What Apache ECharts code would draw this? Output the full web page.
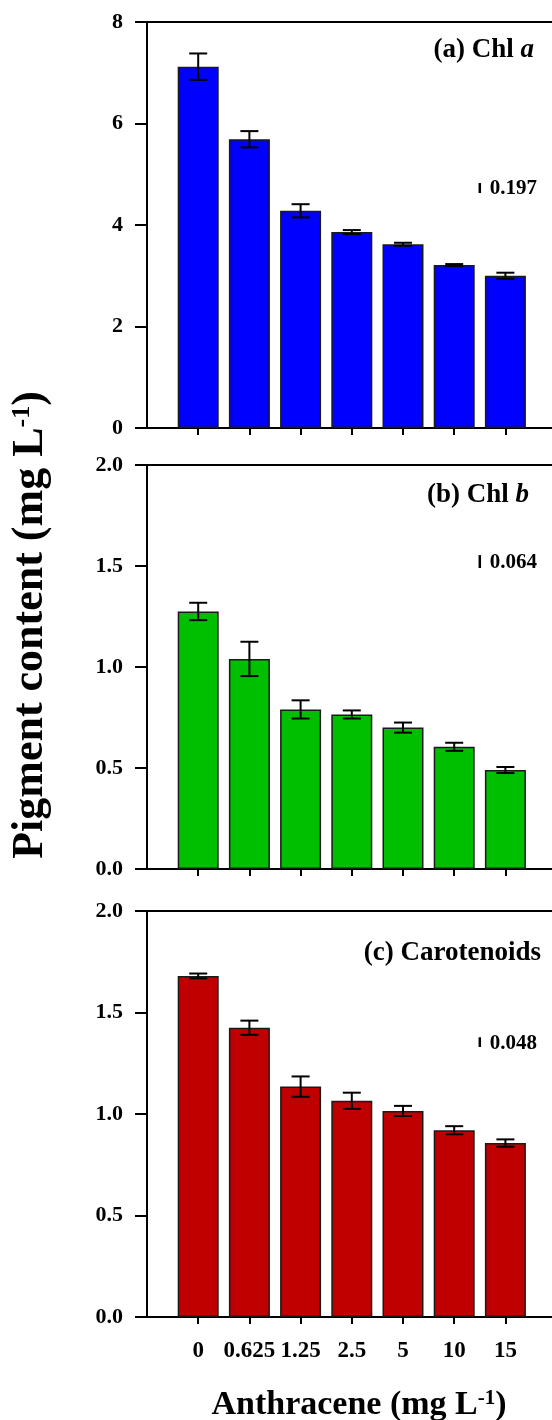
<!DOCTYPE html>
<html>
<head>
<meta charset="utf-8">
<script src="https://cdn.jsdelivr.net/npm/echarts@6/dist/echarts.min.js"></script>
<style>
  html, body { margin: 0; padding: 0; background: #fff; }
  #chart { width: 552px; height: 1420px; }
</style>
</head>
<body>
<div id="chart"></div>
<script>
// Anthracene concentrations (mg L-1)
const categories = ['0', '0.625', '1.25', '2.5', '5', '10', '15'];

// Chlorophyll a, mean and SE (mg L-1)
const chlA    = [7.12, 5.69, 4.28, 3.86, 3.62, 3.21, 3.00];
const chlAErr = [0.26, 0.16, 0.13, 0.04, 0.03, 0.02, 0.06];

// Chlorophyll b
const chlB    = [1.275, 1.04, 0.79, 0.765, 0.70, 0.605, 0.49];
const chlBErr = [0.043, 0.085, 0.045, 0.02, 0.025, 0.02, 0.015];

// Carotenoids
const carot    = [1.68, 1.425, 1.135, 1.065, 1.015, 0.92, 0.857];
const carotErr = [0.012, 0.035, 0.05, 0.04, 0.025, 0.02, 0.018];

// LSD values and the lower end of each LSD mark
const lsd     = [0.197, 0.064, 0.048];
const lsdBase = [4.63, 1.49, 1.33];

// Y-axis tick ranges
const yMax      = [8, 2, 2];
const yInterval = [2, 0.5, 0.5];
const yDecimals = [0, 1, 1];

const panelTitles = ['(a) Chl {i|a}', '(b) Chl {i|b}', '(c) Carotenoids'];
const barColors   = ['#0000FF', '#00BE00', '#C00000'];

const FONT = '"Liberation Serif", "Times New Roman", serif';
const xData = [''].concat(categories, ['']);

const grids = [
  { left: 147, width: 409.6, top: 22,  height: 406 },
  { left: 147, width: 409.6, top: 465, height: 404 },
  { left: 147, width: 409.6, top: 911, height: 406 }
].map(g => Object.assign({ outerBoundsMode: 'none', containLabel: false }, g));

const titleRight = [18, 23, 11];
const titleTop   = [37, 482, 940];

const means = [chlA, chlB, carot];
const errs  = [chlAErr, chlBErr, carotErr];

const xAxes = [];
const yAxes = [];
const series = [];

for (let p = 0; p < 3; p++) {
  const isBottom = p === 2;
  // bottom category axis
  xAxes.push({
    type: 'category', gridIndex: p, data: xData, boundaryGap: false, position: 'bottom',
    axisLine: { show: true, lineStyle: { color: '#000', width: 2 } },
    axisTick: { show: true, length: 7, inside: false,
      interval: (idx) => idx >= 1 && idx <= categories.length,
      lineStyle: { color: '#000', width: 2 } },
    axisLabel: { show: isBottom, interval: 0, hideOverlap: false, margin: 23,
      color: '#000', fontFamily: FONT, fontWeight: 'bold', fontSize: 23 },
    splitLine: { show: false }
  });
  // top frame line
  xAxes.push({
    type: 'category', gridIndex: p, data: xData, boundaryGap: false, position: 'top',
    axisLine: { show: true, lineStyle: { color: '#000', width: 2 } },
    axisTick: { show: false }, axisLabel: { show: false }, splitLine: { show: false }
  });
  const dec = yDecimals[p];
  yAxes.push({
    type: 'value', gridIndex: p, min: 0, max: yMax[p], interval: yInterval[p],
    axisLine: { show: true, lineStyle: { color: '#000', width: 2 } },
    axisTick: { show: true, length: 12, inside: false, lineStyle: { color: '#000', width: 2 } },
    axisLabel: { margin: 24, color: '#000', fontFamily: FONT, fontWeight: 'bold', fontSize: 22,
      formatter: v => v.toFixed(dec) },
    splitLine: { show: false }
  });

  const xi = p * 2;
  series.push({
    type: 'bar', xAxisIndex: xi, yAxisIndex: p, barWidth: 41, silent: true,
    itemStyle: { color: barColors[p], borderColor: '#1a1a1a', borderWidth: 1.5 },
    data: means[p].map((v, i) => [categories[i], v]),
    z: 2
  });

  series.push({
    type: 'custom', xAxisIndex: xi, yAxisIndex: p, silent: true, z: 5,
    data: means[p].map((v, i) => [categories[i], v, errs[p][i]]),
    renderItem: (params, api) => {
      const x = api.value(0), v = api.value(1), e = api.value(2);
      const top = api.coord([x, v + e]);
      const bot = api.coord([x, v - e]);
      const cap = 9;
      const st = { stroke: '#000', lineWidth: 2 };
      return { type: 'group', children: [
        { type: 'line', shape: { x1: top[0], y1: top[1], x2: bot[0], y2: bot[1] }, style: st },
        { type: 'line', shape: { x1: top[0] - cap, y1: top[1], x2: top[0] + cap, y2: top[1] }, style: st },
        { type: 'line', shape: { x1: bot[0] - cap, y1: bot[1], x2: bot[0] + cap, y2: bot[1] }, style: st }
      ]};
    }
  });

  // LSD mark, placed halfway between the last two concentrations
  series.push({
    type: 'custom', xAxisIndex: xi, yAxisIndex: p, silent: true, z: 5,
    data: [[categories.length - 1, lsdBase[p], lsd[p]]],
    renderItem: (params, api) => {
      const i = api.value(0), lo = api.value(1), d = api.value(2);
      const a = api.coord([i, lo]);
      const b = api.coord([i + 1, lo + d]);
      const x = (a[0] + b[0]) / 2;
      return { type: 'group', children: [
        { type: 'line', shape: { x1: x, y1: a[1], x2: x, y2: b[1] }, style: { stroke: '#000', lineWidth: 2.5 } },
        { type: 'text', style: { text: d.toFixed(3), x: x + 10, y: (a[1] + b[1]) / 2 + 1,
            fill: '#000', font: 'bold 21px ' + FONT, align: 'left', verticalAlign: 'middle' } }
      ]};
    }
  });
}

const titles = panelTitles.map((t, p) => ({
  text: t, right: titleRight[p], top: titleTop[p], padding: 0,
  textStyle: { color: '#000', fontFamily: FONT, fontWeight: 'bold', fontSize: 27,
    rich: { i: { fontFamily: FONT, fontWeight: 'bold', fontStyle: 'italic', fontSize: 27, color: '#000' } } }
}));

const chart = echarts.init(document.getElementById('chart'), null, { renderer: 'canvas' });
chart.setOption({
  backgroundColor: '#fff',
  animation: false,
  title: titles,
  grid: grids,
  xAxis: xAxes,
  yAxis: yAxes,
  series: series,
  graphic: [
    { type: 'text', x: 31, y: 625, rotation: Math.PI / 2,
      style: { text: 'Pigment content (mg L{sup|-1})', fill: '#000',
        font: 'bold 44px ' + FONT, align: 'center', verticalAlign: 'middle',
        rich: { sup: { fontSize: 26, fontWeight: 'bold', fontFamily: FONT, verticalAlign: 'top', fill: '#000' } } } },
    { type: 'text', x: 359, y: 1405,
      style: { text: 'Anthracene (mg L{sup|-1})', fill: '#000',
        font: 'bold 34px ' + FONT, align: 'center', verticalAlign: 'middle',
        rich: { sup: { fontSize: 21, fontWeight: 'bold', fontFamily: FONT, verticalAlign: 'top', fill: '#000' } } } }
  ]
});
</script>
</body>
</html>
